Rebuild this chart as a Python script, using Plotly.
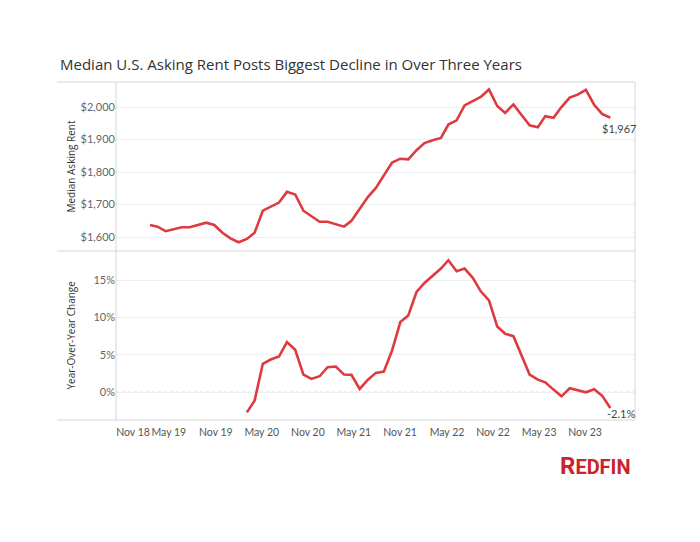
import plotly.graph_objects as go
from plotly.subplots import make_subplots
import pandas as pd

# ---- data (monthly, Feb 2019 - Nov 2023) ----
months = pd.date_range("2019-02-01", "2023-11-01", freq="MS")
median_rent = [
    1637, 1632, 1618, 1624, 1630, 1630, 1637, 1644, 1637, 1613, 1596, 1584,
    1594, 1613, 1681, 1693, 1706, 1739, 1731, 1681, 1665, 1647, 1647, 1640,
    1632, 1650, 1685, 1722, 1751, 1790, 1829, 1841, 1839, 1867, 1889, 1898,
    1905, 1946, 1959, 2005, 2018, 2031, 2054, 2003, 1982, 2008, 1976, 1944,
    1938, 1972, 1967, 2000, 2029, 2038, 2053, 2007, 1979, 1967,
]
yoy_months = months[12:]
yoy_change = [
    -2.69, -1.12, 3.81, 4.39, 4.79, 6.72, 5.69, 2.37, 1.79, 2.15, 3.36, 3.45,
    2.37, 2.33, 0.45, 1.66, 2.60, 2.78, 5.60, 9.40, 10.30, 13.43, 14.64, 15.67,
    16.57, 17.69, 16.21, 16.57, 15.32, 13.52, 12.31, 8.82, 7.84, 7.52, 4.93, 2.37,
    1.70, 1.34, 0.36, -0.54, 0.54, 0.31, 0.00, 0.40, -0.45, -2.10,
]
# axis labels as they sit on the reference's time axis
tick_labels = ["Nov 18", "May 19", "Nov 19", "May 20", "Nov 20", "May 21",
               "Nov 21", "May 22", "Nov 22", "May 23", "Nov 23"]
tick_dates = ["2018-11-29", "2019-04-13", "2019-10-07", "2020-03-28", "2020-09-18",
              "2021-03-10", "2021-08-31", "2022-02-24", "2022-08-16", "2023-02-06",
              "2023-07-29"]
rent_ticks = [1600, 1700, 1800, 1900, 2000]
yoy_ticks = [0, 5, 10, 15]
yoy_tick_labels = ["0%", "5%", "10%", "15%"]

RED = "#de3b40"
FONT = "Open Sans"
TICKFONT = "Lato"
BORDER = "#d6d6d6"
GRID = "#efefef"

fig = make_subplots(rows=2, cols=1, shared_xaxes=True, vertical_spacing=0)
fig.add_trace(go.Scatter(x=months, y=median_rent, mode="lines",
                         line=dict(color=RED, width=2.6), showlegend=False), row=1, col=1)
fig.add_trace(go.Scatter(x=yoy_months, y=yoy_change, mode="lines",
                         line=dict(color=RED, width=2.6), showlegend=False), row=2, col=1)

xrange = ["2018-09-26", "2024-02-02"]
fig.update_layout(
    width=684, height=526, autosize=False,
    margin=dict(l=108, r=57, t=74, b=114),
    plot_bgcolor="white", paper_bgcolor="white",
    font=dict(family=FONT, color="#555555", size=11),
    xaxis=dict(range=xrange, showgrid=False, zeroline=False, showline=False,
               showticklabels=False, ticks="", automargin=False),
    xaxis2=dict(range=xrange, showgrid=False, zeroline=False, showline=False,
                tickvals=tick_dates, ticktext=tick_labels, ticks="", tickangle=0,
                automargin=False, ticklabelstandoff=4,
                tickfont=dict(family=TICKFONT, size=10.5, color="#555555")),
    yaxis=dict(domain=[0.5, 1], range=[1557, 2077], tickvals=rent_ticks,
               tickformat="$,.0f", gridcolor=GRID, zeroline=False, showline=False,
               ticks="", automargin=False,
               tickfont=dict(family=TICKFONT, size=11, color="#666666")),
    yaxis2=dict(domain=[0, 0.5], range=[-3.71, 18.92], tickvals=yoy_ticks,
                ticktext=yoy_tick_labels, gridcolor=GRID, zeroline=False, showline=False,
                ticks="", automargin=False,
                tickfont=dict(family=TICKFONT, size=11, color="#666666")),
)

shapes = []
for yy in (1, 0.5, 0):
    shapes.append(dict(type="line", xref="paper", yref="paper", x0=-0.1137, x1=1,
                       y0=yy, y1=yy, line=dict(color=BORDER, width=1)))
for xx in (0, 1):
    shapes.append(dict(type="line", xref="paper", yref="paper", x0=xx, x1=xx,
                       y0=0, y1=1, line=dict(color=BORDER, width=1)))
shapes.append(dict(type="line", xref="x2 domain", yref="y2", x0=0, x1=1, y0=0, y1=0,
                   line=dict(color="#bdbdbd", width=1, dash="dot"), layer="below"))
fig.update_layout(shapes=shapes)

ann = [
    dict(text="Median U.S. Asking Rent Posts Biggest Decline in Over Three Years",
         xref="paper", yref="paper", x=0, y=1, xanchor="left", yanchor="middle",
         xshift=-58, yshift=18, showarrow=False,
         font=dict(family=FONT, size=15, color="#333333")),
    dict(text="Median Asking Rent", xref="paper", yref="paper", x=0, y=0.75,
         xanchor="center", yanchor="middle", xshift=-46, textangle=-90, showarrow=False,
         font=dict(family=FONT, size=10, color="#333333")),
    dict(text="Year-Over-Year Change", xref="paper", yref="paper", x=0, y=0.25,
         xanchor="center", yanchor="middle", xshift=-46, textangle=-90, showarrow=False,
         font=dict(family=FONT, size=10, color="#333333")),
    dict(text="$1,967", xref="x", yref="y", x=months[-1], y=median_rent[-1],
         xanchor="left", yanchor="middle", xshift=-10, yshift=-11, showarrow=False,
         font=dict(family=TICKFONT, size=11, color="#444444")),
    dict(text="-2.1%", xref="x2", yref="y2", x=yoy_months[-1], y=yoy_change[-1],
         xanchor="left", yanchor="middle", xshift=-5, yshift=-6, showarrow=False,
         font=dict(family=TICKFONT, size=11, color="#444444")),
    dict(text="<b><span style='font-size:24px'>R</span>EDFIN</b>", xref="paper", yref="paper",
         x=1, y=0, xanchor="center", yanchor="middle", xshift=-40, yshift=-46,
         showarrow=False, font=dict(family="Roboto", size=20, color="#cc2229")),
]
fig.update_layout(annotations=ann)

fig.write_html("out.html")
